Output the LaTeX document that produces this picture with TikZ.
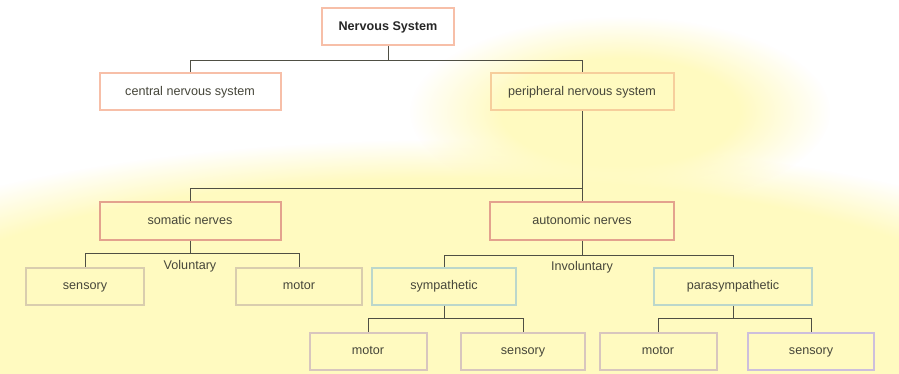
\documentclass[tikz,border=0pt]{standalone}
\usepackage{fontspec}
\setmainfont{Liberation Sans}
\usepackage{tikz}
\usetikzlibrary{positioning,calc,fadings}
\definecolor{GlowYellow}{HTML}{FFFAC0}
\definecolor{TopRim}{HTML}{F7BFA8}
\definecolor{OrangeRim}{HTML}{F6CE9C}
\definecolor{RoseRim}{HTML}{E3A28E}
\definecolor{SandRim}{HTML}{D9CDAE}
\definecolor{TealRim}{HTML}{BCD7CB}
\definecolor{MauveRim}{HTML}{D8C6BE}
\definecolor{LilacRim}{HTML}{CDBFDC}
\definecolor{LinkGrey}{HTML}{4F4F44}
\definecolor{LabelGrey}{HTML}{46463A}
% soft radial fade for the glows
\pgfdeclareradialshading{softglowshade}{\pgfpointorigin}{color(0bp)=(pgftransparent!0); color(14bp)=(pgftransparent!0); color(25bp)=(pgftransparent!100); color(50bp)=(pgftransparent!100)}
\pgfdeclarefading{softglow}{\pgfuseshading{softglowshade}}

\begin{document}
\begin{tikzpicture}[
  x=1pt,y=-1pt,
  box/.style={draw,line width=2pt,inner sep=0pt,minimum height=37pt,text height=9pt,text depth=2.5pt,font=\fontsize{12.6}{14}\selectfont,text=LabelGrey},
  link/.style={draw=LinkGrey,line width=0.9pt},
  tag/.style={font=\fontsize{12.6}{14}\selectfont,text=LabelGrey,inner sep=1pt,text height=9pt,text depth=2.5pt}
]
\useasboundingbox[fill=white] (0,0) rectangle (899,374);
% soft yellow background
\fill[GlowYellow,path fading=circle with fuzzy edge 20 percent] (450,335) ellipse (700 and 195);
\fill[GlowYellow,path fading=softglow] (620,112) ellipse (210 and 95);

% boxes
\node[box,draw=TopRim,fill=white,minimum width=132pt,font=\bfseries\fontsize{12.6}{14}\selectfont,text=black!85] (ns) at (388,27) {Nervous System};
\node[box,draw=TopRim,fill=white,minimum width=181pt] (cns) at (190,92) {central nervous system};
\node[box,draw=OrangeRim,minimum width=183pt] (pns) at (582,92) {peripheral nervous system};
\node[box,draw=RoseRim,minimum width=181pt] (som) at (190,221) {somatic nerves};
\node[box,draw=RoseRim,minimum width=184pt] (aut) at (582,221) {autonomic nerves};
\node[box,draw=SandRim,minimum width=118pt] (sens) at (85,286) {sensory};
\node[box,draw=SandRim,minimum width=126pt] (mot) at (299,286) {motor};
\node[box,draw=TealRim,minimum width=144pt] (sym) at (444,286) {sympathetic};
\node[box,draw=TealRim,minimum width=158pt] (para) at (733,286) {parasympathetic};
\node[box,draw=MauveRim,minimum width=117pt] (symmot) at (368,351) {motor};
\node[box,draw=MauveRim,minimum width=124pt] (symsens) at (523,351) {sensory};
\node[box,draw=MauveRim,minimum width=117pt] (paramot) at (658,351) {motor};
\node[box,draw=LilacRim,minimum width=126pt] (parasens) at (811,351) {sensory};

\node[tag] (vol) at (190,266) {Voluntary};
\node[tag] (invol) at (582,267) {Involuntary};

% junctions
\coordinate (j1) at (388,60);
\coordinate (j2) at (582,188);
\coordinate (j3) at (190,253);
\coordinate (j4) at (582,255);
\coordinate (j5) at (444,318);
\coordinate (j6) at (733,318);

% connectors
\draw[link] (ns.south) -- (j1);
\draw[link] (j1) -| (cns.north);
\draw[link] (j1) -| (pns.north);
\draw[link] (pns.south) -- (j2);
\draw[link] (j2) -| (som.north);
\draw[link] (j2) -- (aut.north);
\draw[link] (som.south) -- (j3);
\draw[link] (j3) -| (sens.north);
\draw[link] (j3) -| (mot.north);
\draw[link] (aut.south) -- (j4);
\draw[link] (j4) -| (sym.north);
\draw[link] (j4) -| (para.north);
\draw[link] (sym.south) -- (j5);
\draw[link] (j5) -| (symmot.north);
\draw[link] (j5) -| (symsens.north);
\draw[link] (para.south) -- (j6);
\draw[link] (j6) -| (paramot.north);
\draw[link] (j6) -| (parasens.north);
\end{tikzpicture}
\end{document}
